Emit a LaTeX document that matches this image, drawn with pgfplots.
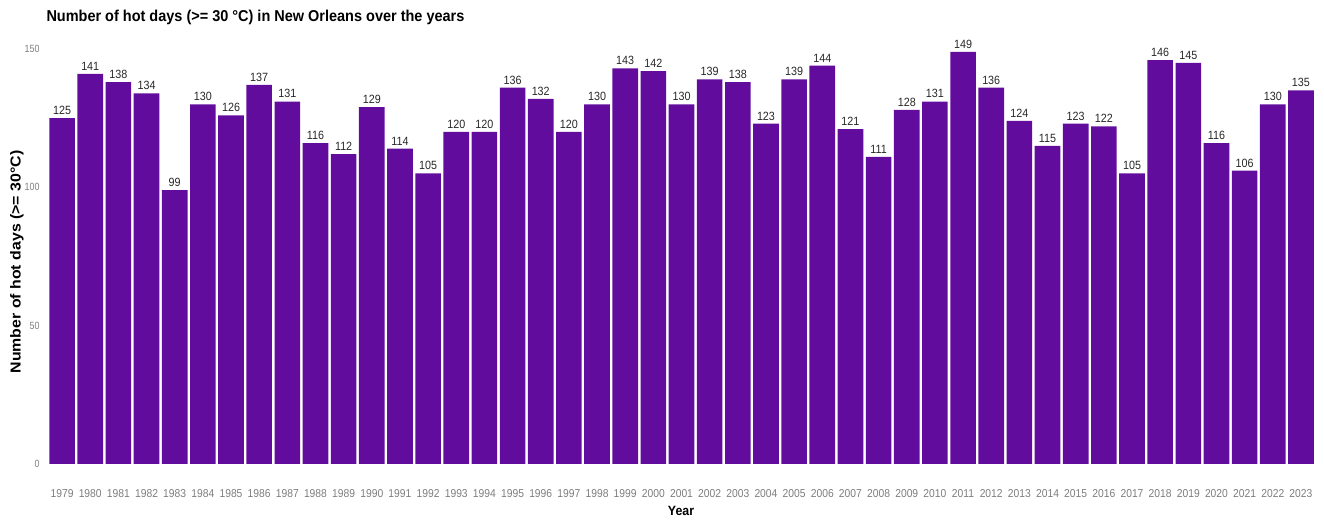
\documentclass[border=0pt]{standalone}
\usepackage{fontspec}
\setmainfont{Liberation Sans}
\newfontfamily\titlefont{Liberation Sans}[FakeStretch=0.92]
\newfontfamily\tickfont{Liberation Sans}[FakeStretch=0.85]
\newfontfamily\valfont{Liberation Sans}[FakeStretch=0.9]
\newfontfamily\ylabfont{Liberation Sans}[FakeStretch=1.1]
\usepackage{pgfplots}
\pgfplotsset{compat=1.18}
\definecolor{barpurple}{RGB}{98,12,158}
\definecolor{ticgray}{RGB}{125,125,125}
\definecolor{valgray}{RGB}{40,40,40}
\pgfplotstableread{
year val
1979 125
1980 141
1981 138
1982 134
1983 99
1984 130
1985 126
1986 137
1987 131
1988 116
1989 112
1990 129
1991 114
1992 105
1993 120
1994 120
1995 136
1996 132
1997 120
1998 130
1999 143
2000 142
2001 130
2002 139
2003 138
2004 123
2005 139
2006 144
2007 121
2008 111
2009 128
2010 131
2011 149
2012 136
2013 124
2014 115
2015 123
2016 122
2017 105
2018 146
2019 145
2020 116
2021 106
2022 130
2023 135
}\hotdays
\begin{document}
\begin{tikzpicture}[x=1bp,y=1bp]
\path[use as bounding box] (0,0) rectangle (1324,522);
\begin{axis}[
  at={(48bp,58bp)}, anchor=south west,
  scale only axis, width=1267bp, height=415bp,
  xmin=1978.5, xmax=2023.5, ymin=0, ymax=150,
  axis line style={draw=none},
  major tick length=0pt,
  xtick=data, ytick={0,50,100,150},
  /pgf/number format/assume math mode=true,
  /pgf/number format/1000 sep={},
  xticklabel style={font=\valfont\fontsize{11.5}{13}\selectfont, text=ticgray, yshift=-22bp},
  yticklabel style={font=\tickfont\fontsize{10.5}{12}\selectfont, text=ticgray, xshift=-5bp},
  clip=false,
]
\addplot[ybar, bar width=0.91, fill=barpurple, draw=none,
  nodes near coords,
  every node near coord/.append style={font=\valfont\fontsize{12}{14}\selectfont, text=valgray, yshift=0bp}]
  table[x=year, y=val] {\hotdays};
\end{axis}
\node[anchor=west, font=\titlefont\bfseries\fontsize{15.8}{18}\selectfont] at (43,505) {Number of hot days (>= 30 °C) in New Orleans over the years};
\node[rotate=90, font=\ylabfont\bfseries\fontsize{14.5}{16}\selectfont] at (17,260) {Number of hot days (>= 30°C)};
\node[font=\titlefont\bfseries\fontsize{13.5}{15}\selectfont] at (681,11) {Year};
\end{tikzpicture}
\end{document}
